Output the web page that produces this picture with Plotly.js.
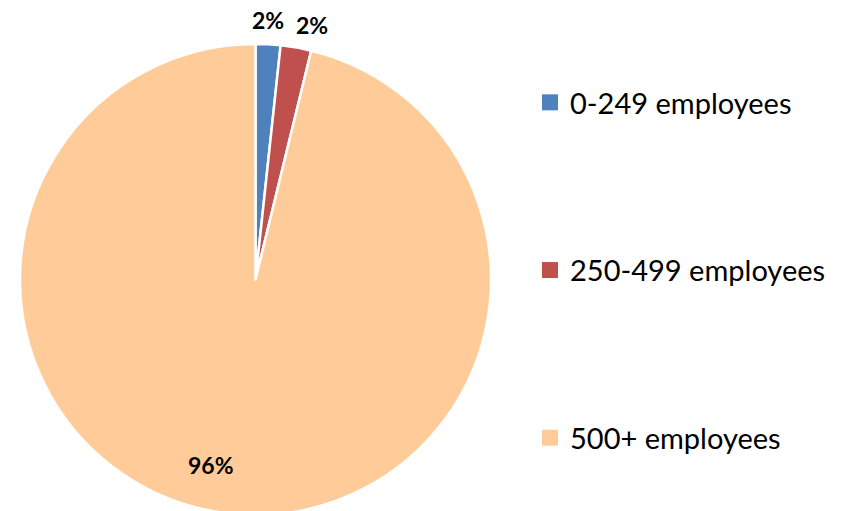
<!DOCTYPE html>
<html>
<head>
<meta charset="utf-8">
<script src="https://cdn.plot.ly/plotly-3.0.1.min.js"></script>
<style>
html,body{margin:0;padding:0;overflow:hidden;background:#fff;}
#chart{width:847px;height:560px;}
</style>
</head>
<body>
<div id="chart"></div>
<script>
const categories = ["0-249 employees", "250-499 employees", "500+ employees"];
const values = [1.7, 2.1, 96.2];
const percentLabels = ["2%", "2%", "96%"];
const colors = ["#4F81BD", "#C0504D", "#FFCC99"];

// layout geometry (pixels)
const W = 847, H = 560;
const PIE_LEFT = 20, PIE_RIGHT = 491, PIE_TOP = 44, PIE_BOTTOM = 515;
// label placement: radius factor and pixel nudge per slice
const labelRadius = [1.105, 1.105, 0.81];
const labelNudge = [[-1, 0], [12, 2], [-22, -4]];

const pie = {
  type: "pie",
  labels: categories,
  values: values,
  sort: false,
  direction: "clockwise",
  rotation: 0,
  marker: {colors: colors, line: {color: "#ffffff", width: 2.5}},
  textinfo: "none",
  showlegend: false,
  hoverinfo: "label+percent",
  domain: {x: [PIE_LEFT / W, PIE_RIGHT / W], y: [1 - PIE_BOTTOM / H, 1 - PIE_TOP / H]}
};

const legendTraces = categories.map((c, i) => ({
  type: "scatter",
  mode: "markers",
  x: [null], y: [null],
  name: c,
  legendgroup: "g" + i,
  marker: {symbol: "square", size: 16, color: colors[i]},
  hoverinfo: "skip"
}));

// percentage labels placed from the slice geometry
const total = values.reduce((a, b) => a + b, 0);
const cx = (PIE_LEFT + PIE_RIGHT) / 2, cy = (PIE_TOP + PIE_BOTTOM) / 2, R = (PIE_RIGHT - PIE_LEFT) / 2;
let cum = 0;
const annotations = values.map((v, i) => {
  const mid = (cum + v / 2) / total * 2 * Math.PI;
  cum += v;
  const r = R * labelRadius[i];
  const px = cx + r * Math.sin(mid) + labelNudge[i][0];
  const py = cy - r * Math.cos(mid) + labelNudge[i][1];
  return {
    xref: "paper", yref: "paper",
    x: px / W, y: 1 - py / H,
    xanchor: "center", yanchor: "middle",
    text: "<b>" + percentLabels[i] + "</b>",
    showarrow: false,
    font: {family: "Lato, 'Open Sans', sans-serif", size: 23, color: "#000"}
  };
});

const layout = {
  width: W, height: H,
  margin: {l: 0, r: 0, t: 0, b: 0},
  paper_bgcolor: "#fff", plot_bgcolor: "#fff",
  xaxis: {visible: false, domain: [0.99, 1]},
  yaxis: {visible: false, domain: [0.99, 1]},
  showlegend: true,
  annotations: annotations,
  legend: {
    x: 530 / W, xanchor: "left",
    y: 1 - 77 / H, yanchor: "top",
    font: {family: "Lato, 'Open Sans', sans-serif", size: 29, color: "#000"},
    tracegroupgap: 127,
    bgcolor: "rgba(0,0,0,0)"
  }
};

Plotly.newPlot("chart", [pie, ...legendTraces], layout, {displayModeBar: false, staticPlot: true});
</script>
</body>
</html>
